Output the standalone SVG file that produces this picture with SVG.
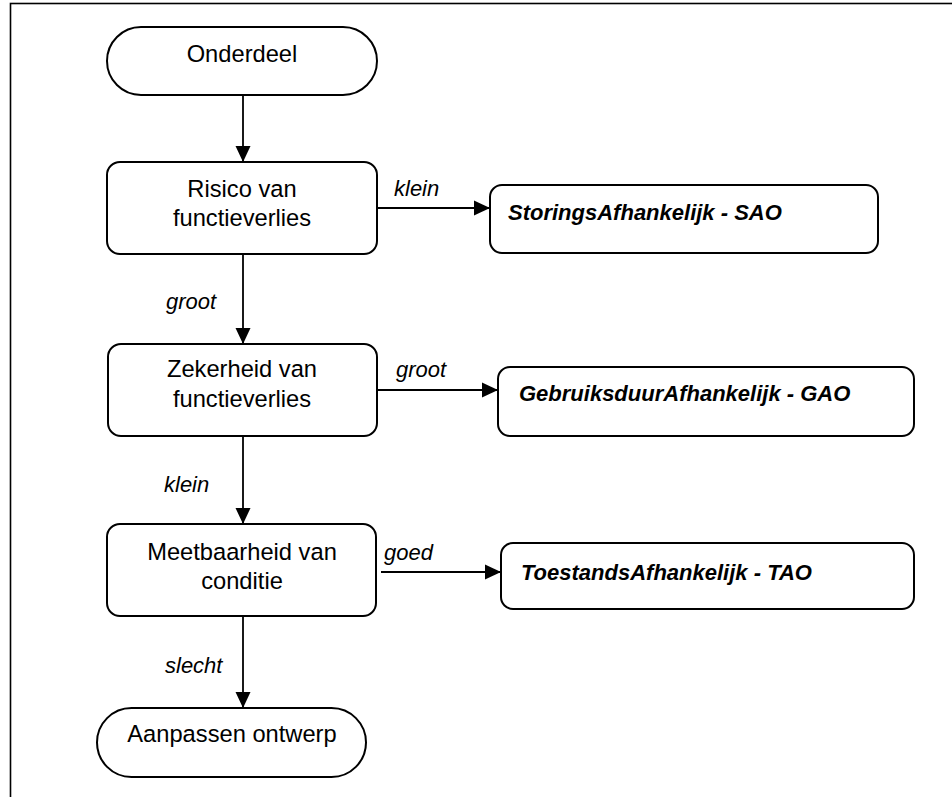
<svg xmlns="http://www.w3.org/2000/svg" width="952" height="797" viewBox="0 0 952 797">
<style>
.node{fill:#fff;stroke:#000;stroke-width:2}
.t{font-family:"Liberation Sans",Arial,sans-serif;font-size:23.7px;fill:#000;text-anchor:middle}
.b{font-family:"Liberation Sans",Arial,sans-serif;font-size:22px;font-weight:bold;font-style:italic;fill:#000}
.l{font-family:"Liberation Sans",Arial,sans-serif;font-size:22px;font-style:italic;fill:#000}
.c{fill:none;stroke:#000;stroke-width:1.8}
</style>
<defs>
<marker id="arr" markerUnits="userSpaceOnUse" markerWidth="16" markerHeight="16" viewBox="0 0 16 16" refX="16" refY="8" orient="auto">
<path d="M0,0.5 L16,8 L0,15.5 Z" fill="#000"/>
</marker>
</defs>
<rect x="10.5" y="3.5" width="960" height="810" fill="#fff" stroke="#000" stroke-width="1.6"/>
<g id="connectors">
<line class="c" x1="243" y1="95" x2="243" y2="162" marker-end="url(#arr)"/>
<line class="c" x1="377" y1="208" x2="490" y2="208" marker-end="url(#arr)"/>
<line class="c" x1="243" y1="254" x2="243" y2="344" marker-end="url(#arr)"/>
<line class="c" x1="377" y1="390" x2="498" y2="390" marker-end="url(#arr)"/>
<line class="c" x1="243" y1="436" x2="243" y2="524" marker-end="url(#arr)"/>
<line class="c" x1="381" y1="572" x2="501" y2="572" marker-end="url(#arr)"/>
<line class="c" x1="243" y1="616" x2="243" y2="708" marker-end="url(#arr)"/>
<text class="l" x="394" y="196">klein</text>
<text class="l" x="166" y="309">groot</text>
<text class="l" x="396" y="377">groot</text>
<text class="l" x="164" y="492">klein</text>
<text class="l" x="384" y="560">goed</text>
<text class="l" x="165" y="673">slecht</text>
</g>
<g id="onderdeel">
<rect class="node" x="107" y="27" width="270" height="68" rx="34"/>
<text class="t" x="242" y="62">Onderdeel</text>
</g>
<g id="risico">
<rect class="node" x="107" y="162" width="270" height="92" rx="13"/>
<text class="t" x="242" y="197">Risico van</text>
<text class="t" x="242" y="226">functieverlies</text>
</g>
<g id="sao">
<rect class="node" x="490" y="185" width="388" height="68" rx="12"/>
<text class="b" x="508" y="220">StoringsAfhankelijk - SAO</text>
</g>
<g id="zekerheid">
<rect class="node" x="108" y="344" width="269" height="92" rx="13"/>
<text class="t" x="242" y="377">Zekerheid van</text>
<text class="t" x="242" y="407">functieverlies</text>
</g>
<g id="gao">
<rect class="node" x="498" y="367" width="416" height="69" rx="12"/>
<text class="b" x="519" y="401">GebruiksduurAfhankelijk - GAO</text>
</g>
<g id="meetbaarheid">
<rect class="node" x="107" y="524" width="269" height="92" rx="13"/>
<text class="t" x="242" y="560">Meetbaarheid van</text>
<text class="t" x="242" y="589">conditie</text>
</g>
<g id="tao">
<rect class="node" x="501" y="543" width="413" height="66" rx="12"/>
<text class="b" x="521" y="580">ToestandsAfhankelijk - TAO</text>
</g>
<g id="aanpassen">
<rect class="node" x="97" y="708" width="269" height="69" rx="34.5"/>
<text class="t" x="232" y="742">Aanpassen ontwerp</text>
</g>
</svg>
